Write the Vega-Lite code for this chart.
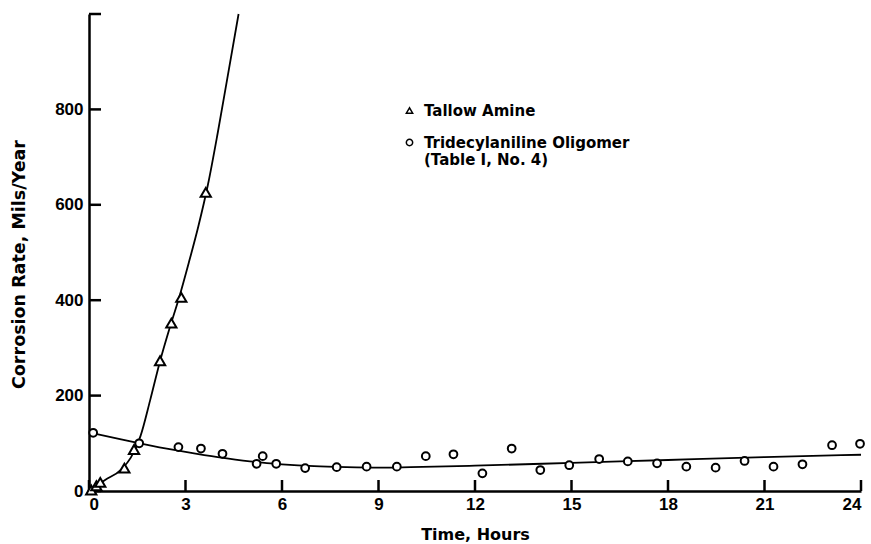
{
  "$schema": "https://vega.github.io/schema/vega-lite/v6.json",
  "width": 772,
  "height": 477,
  "autosize": {"type": "none"},
  "padding": {"left": 89, "top": 14, "right": 10, "bottom": 53},
  "background": "white",
  "config": {
    "view": {"stroke": null},
    "axis": {
      "grid": false,
      "ticks": false,
      "domainColor": "black",
      "domainWidth": 2.5,
      "labelColor": "black",
      "labelFont": "Liberation Sans",
      "labelFontWeight": "bold",
      "labelFontSize": 17,
      "titleColor": "black",
      "titleFont": "DejaVu Sans",
      "titleFontWeight": "bold"
    },
    "legend": {
      "title": null,
      "orient": "none",
      "legendX": 313,
      "legendY": 89,
      "padding": 0,
      "symbolSize": 40,
      "labelFont": "DejaVu Sans",
      "labelFontWeight": "bold",
      "labelFontSize": 15,
      "labelColor": "black",
      "labelLineHeight": 18,
      "labelOffset": 7,
      "labelLimit": 400,
      "rowPadding": 16
    }
  },
  "datasets": {
    "points": [
      {"series": "Tallow Amine", "hours": 0.07, "rate": 2},
      {"series": "Tallow Amine", "hours": 0.23, "rate": 11},
      {"series": "Tallow Amine", "hours": 0.35, "rate": 18},
      {"series": "Tallow Amine", "hours": 1.1, "rate": 48},
      {"series": "Tallow Amine", "hours": 1.4, "rate": 87},
      {"series": "Tallow Amine", "hours": 2.21, "rate": 273},
      {"series": "Tallow Amine", "hours": 2.56, "rate": 352},
      {"series": "Tallow Amine", "hours": 2.87, "rate": 406},
      {"series": "Tallow Amine", "hours": 3.63, "rate": 626},
      {"series": "Tridecylaniline Oligomer", "hours": 0.13, "rate": 122},
      {"series": "Tridecylaniline Oligomer", "hours": 1.56, "rate": 100},
      {"series": "Tridecylaniline Oligomer", "hours": 2.78, "rate": 92},
      {"series": "Tridecylaniline Oligomer", "hours": 3.48, "rate": 89},
      {"series": "Tridecylaniline Oligomer", "hours": 4.15, "rate": 78},
      {"series": "Tridecylaniline Oligomer", "hours": 5.21, "rate": 57},
      {"series": "Tridecylaniline Oligomer", "hours": 5.4, "rate": 73},
      {"series": "Tridecylaniline Oligomer", "hours": 5.82, "rate": 57},
      {"series": "Tridecylaniline Oligomer", "hours": 6.72, "rate": 48},
      {"series": "Tridecylaniline Oligomer", "hours": 7.7, "rate": 50},
      {"series": "Tridecylaniline Oligomer", "hours": 8.63, "rate": 51},
      {"series": "Tridecylaniline Oligomer", "hours": 9.57, "rate": 51},
      {"series": "Tridecylaniline Oligomer", "hours": 10.47, "rate": 73},
      {"series": "Tridecylaniline Oligomer", "hours": 11.33, "rate": 77},
      {"series": "Tridecylaniline Oligomer", "hours": 12.23, "rate": 37},
      {"series": "Tridecylaniline Oligomer", "hours": 13.14, "rate": 89},
      {"series": "Tridecylaniline Oligomer", "hours": 14.03, "rate": 44},
      {"series": "Tridecylaniline Oligomer", "hours": 14.93, "rate": 54},
      {"series": "Tridecylaniline Oligomer", "hours": 15.86, "rate": 67},
      {"series": "Tridecylaniline Oligomer", "hours": 16.75, "rate": 62},
      {"series": "Tridecylaniline Oligomer", "hours": 17.66, "rate": 58},
      {"series": "Tridecylaniline Oligomer", "hours": 18.57, "rate": 51},
      {"series": "Tridecylaniline Oligomer", "hours": 19.48, "rate": 49},
      {"series": "Tridecylaniline Oligomer", "hours": 20.38, "rate": 63},
      {"series": "Tridecylaniline Oligomer", "hours": 21.28, "rate": 51},
      {"series": "Tridecylaniline Oligomer", "hours": 22.18, "rate": 56},
      {"series": "Tridecylaniline Oligomer", "hours": 23.1, "rate": 96},
      {"series": "Tridecylaniline Oligomer", "hours": 23.97, "rate": 99}
    ],
    "curves": [
      {"series": "Tallow Amine", "hours": 0.0, "rate": 0},
      {"series": "Tallow Amine", "hours": 0.5, "rate": 23},
      {"series": "Tallow Amine", "hours": 1.0, "rate": 45},
      {"series": "Tallow Amine", "hours": 1.3, "rate": 70},
      {"series": "Tallow Amine", "hours": 1.6, "rate": 115},
      {"series": "Tallow Amine", "hours": 1.9, "rate": 190},
      {"series": "Tallow Amine", "hours": 2.2, "rate": 270},
      {"series": "Tallow Amine", "hours": 2.5, "rate": 340},
      {"series": "Tallow Amine", "hours": 2.8, "rate": 405},
      {"series": "Tallow Amine", "hours": 3.1, "rate": 478},
      {"series": "Tallow Amine", "hours": 3.4, "rate": 555},
      {"series": "Tallow Amine", "hours": 3.7, "rate": 643},
      {"series": "Tallow Amine", "hours": 4.0, "rate": 750},
      {"series": "Tallow Amine", "hours": 4.3, "rate": 865},
      {"series": "Tallow Amine", "hours": 4.65, "rate": 1000},
      {"series": "Tridecylaniline Oligomer", "hours": 0.13, "rate": 121},
      {"series": "Tridecylaniline Oligomer", "hours": 1.0, "rate": 108},
      {"series": "Tridecylaniline Oligomer", "hours": 2.0, "rate": 94},
      {"series": "Tridecylaniline Oligomer", "hours": 3.0, "rate": 82},
      {"series": "Tridecylaniline Oligomer", "hours": 4.0, "rate": 71},
      {"series": "Tridecylaniline Oligomer", "hours": 5.0, "rate": 62},
      {"series": "Tridecylaniline Oligomer", "hours": 6.0, "rate": 56},
      {"series": "Tridecylaniline Oligomer", "hours": 7.0, "rate": 52},
      {"series": "Tridecylaniline Oligomer", "hours": 8.0, "rate": 50},
      {"series": "Tridecylaniline Oligomer", "hours": 9.0, "rate": 49},
      {"series": "Tridecylaniline Oligomer", "hours": 10.0, "rate": 50},
      {"series": "Tridecylaniline Oligomer", "hours": 12.0, "rate": 53},
      {"series": "Tridecylaniline Oligomer", "hours": 15.0, "rate": 59},
      {"series": "Tridecylaniline Oligomer", "hours": 18.0, "rate": 65},
      {"series": "Tridecylaniline Oligomer", "hours": 21.0, "rate": 71},
      {"series": "Tridecylaniline Oligomer", "hours": 24.0, "rate": 76}
    ],
    "xticks": [
      {"hours": 0}, {"hours": 3}, {"hours": 6}, {"hours": 9}, {"hours": 12},
      {"hours": 15}, {"hours": 18}, {"hours": 21}, {"hours": 24}
    ],
    "yticks": [
      {"rate": 0}, {"rate": 200}, {"rate": 400}, {"rate": 600}, {"rate": 800}, {"rate": 1000}
    ]
  },
  "layer": [
    {
      "data": {"name": "curves"},
      "mark": {"type": "line", "color": "black", "strokeWidth": 1.8, "interpolate": "monotone"},
      "encoding": {
        "x": {
          "field": "hours", "type": "quantitative",
          "scale": {"domain": [0, 24], "nice": false, "zero": false},
          "axis": {
            "values": [0, 3, 6, 9, 12, 15, 18, 21, 24],
            "labelPadding": 5,
            "title": "Time, Hours",
            "titleFontSize": 16,
            "titleY": 48,
            "titleBaseline": "alphabetic"
          }
        },
        "y": {
          "field": "rate", "type": "quantitative",
          "scale": {"domain": [0, 1000], "nice": false},
          "axis": {
            "values": [0, 200, 400, 600, 800],
            "labelPadding": 6,
            "title": "Corrosion Rate, Mils/Year",
            "titleFontSize": 17.5,
            "titleX": -70,
            "titleY": 250,
            "titleAlign": "center",
            "titleBaseline": "middle",
            "titleAngle": 270
          }
        },
        "detail": {"field": "series"}
      }
    },
    {
      "data": {"name": "xticks"},
      "mark": {"type": "tick", "color": "black", "orient": "vertical", "thickness": 2.5, "size": 11, "yOffset": -5.5, "opacity": 1},
      "encoding": {
        "x": {"field": "hours", "type": "quantitative"},
        "y": {"datum": 0, "type": "quantitative"}
      }
    },
    {
      "data": {"name": "yticks"},
      "mark": {"type": "tick", "color": "black", "orient": "horizontal", "thickness": 2.5, "size": 12, "xOffset": 6, "opacity": 1},
      "encoding": {
        "y": {"field": "rate", "type": "quantitative"},
        "x": {"datum": 0, "type": "quantitative"}
      }
    },
    {
      "data": {"name": "points"},
      "transform": [{"filter": "datum.series == 'Tallow Amine'"}],
      "mark": {"type": "point", "filled": true, "fill": "white", "stroke": "black", "strokeWidth": 2, "size": 105, "opacity": 1},
      "encoding": {
        "x": {"field": "hours", "type": "quantitative"},
        "y": {"field": "rate", "type": "quantitative"},
        "shape": {
          "field": "series", "type": "nominal",
          "scale": {"domain": ["Tallow Amine", "Tridecylaniline Oligomer"], "range": ["triangle-up", "circle"]},
          "legend": {
            "labelExpr": "datum.label == 'Tridecylaniline Oligomer' ? ['Tridecylaniline Oligomer', '(Table I, No. 4)'] : datum.label",
            "encode": {
              "symbols": {
                "update": {
                  "stroke": {"value": "black"},
                  "fill": {"value": "white"},
                  "strokeWidth": {"value": 1.5},
                  "opacity": {"value": 1}
                }
              }
            }
          }
        }
      }
    },
    {
      "data": {"name": "points"},
      "transform": [{"filter": "datum.series != 'Tallow Amine'"}],
      "mark": {"type": "point", "filled": true, "fill": "white", "stroke": "black", "strokeWidth": 2, "size": 60, "opacity": 1},
      "encoding": {
        "x": {"field": "hours", "type": "quantitative"},
        "y": {"field": "rate", "type": "quantitative"},
        "shape": {"field": "series", "type": "nominal"}
      }
    }
  ]
}
